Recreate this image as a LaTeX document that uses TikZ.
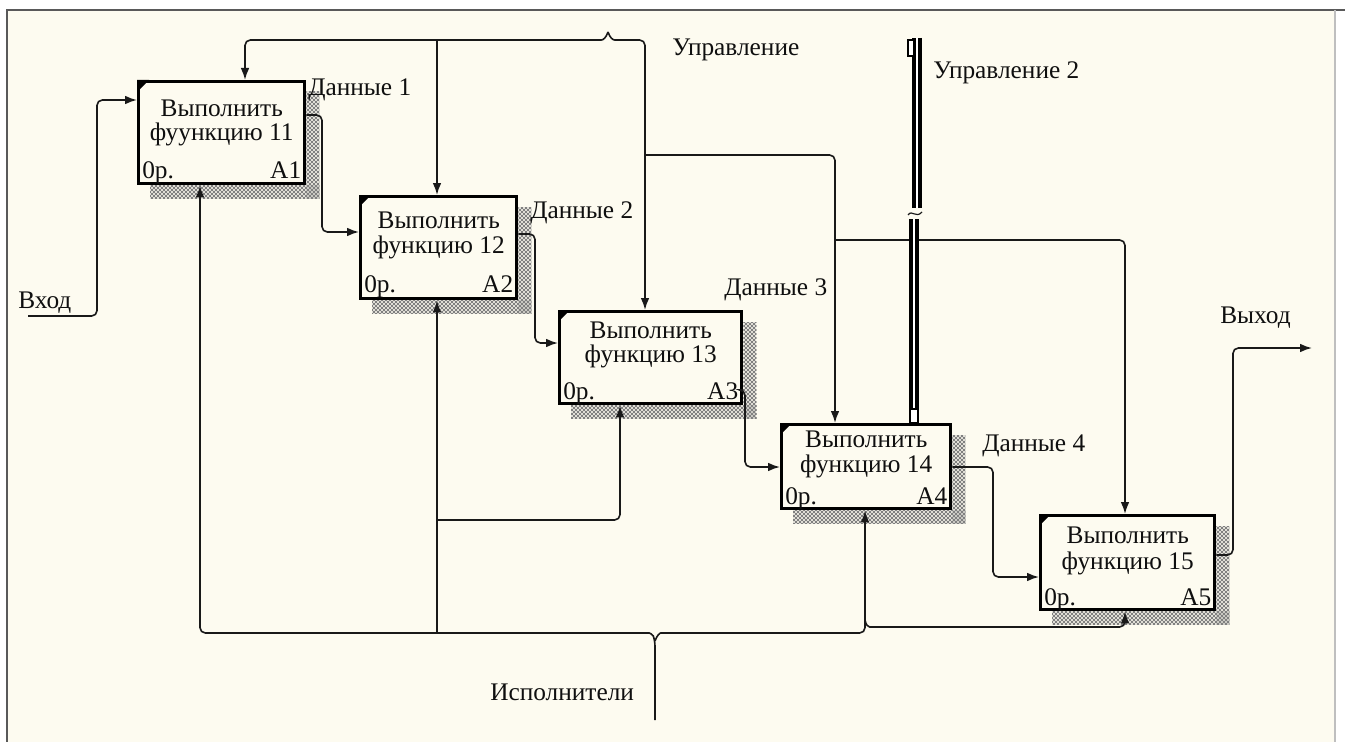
\documentclass[tikz,border=0pt]{standalone}
\usepackage{fontspec}
\newfontfamily\lbfont{Liberation Serif}
\usetikzlibrary{arrows.meta,calc,patterns}
\definecolor{cream}{RGB}{253,251,240}
\definecolor{lnc}{RGB}{25,25,25}
\definecolor{txt}{RGB}{15,15,15}
\pgfdeclarelayer{back}\pgfdeclarelayer{bg}\pgfsetlayers{back,bg,main}
\pgfdeclarepatternformonly{shadehatch}{\pgfqpoint{-0.5pt}{-0.5pt}}{\pgfqpoint{3.5pt}{3.5pt}}{\pgfqpoint{3pt}{3pt}}{%
  \pgfsetlinewidth{0.6pt}%
  \pgfpathmoveto{\pgfqpoint{0pt}{0pt}}\pgfpathlineto{\pgfqpoint{3pt}{3pt}}%
  \pgfpathmoveto{\pgfqpoint{0pt}{3pt}}\pgfpathlineto{\pgfqpoint{3pt}{0pt}}%
  \pgfusepath{stroke}}
\tikzset{
  ln/.style={draw=lnc, line width=1.2pt, rounded corners=4pt},
  arr/.style={ln, -{Latex[length=9pt,width=6.5pt]}},
  fbox/.style={draw=black, line width=2.6pt, fill=cream, inner sep=0pt, anchor=north west},
  shd/.style={pattern=shadehatch, pattern color=black!50},
  lbl/.style={font=\lbfont\fontsize{19}{20}\selectfont, text=txt, inner sep=0pt, anchor=west},
  ttl/.style={font=\lbfont\fontsize{19}{20}\selectfont, text=txt, inner sep=0pt, anchor=base},
  dbl/.style={draw=black, line width=3.2pt, double=white, double distance=1.1pt},
  tun/.style={draw=black, fill=white, line width=1.2pt}
}
\begin{document}
\begin{tikzpicture}[x=0.75pt,y=-0.75pt]
\useasboundingbox (0,0) rectangle (1345,742);
\begin{pgfonlayer}{back}
  \fill[white] (0,0) rectangle (1345,742);
  \fill[cream] (7,10) rectangle (1335,742);
  \draw[black!65, line width=1.6pt] (7,742) -- (7,10) -- (1345,10);
  \draw[black!25, line width=1pt] (1335,10) -- (1335,742);
\end{pgfonlayer}

% boxes
\node[fbox, minimum width=166*0.75pt, minimum height=102*0.75pt] (a1) at (137,80) {};
\node[fbox, minimum width=156*0.75pt, minimum height=102*0.75pt] (a2) at (359,195) {};
\node[fbox, minimum width=182*0.75pt, minimum height=92*0.75pt] (a3) at (558,310) {};
\node[fbox, minimum width=169*0.75pt, minimum height=84*0.75pt] (a4) at (780,423) {};
\node[fbox, minimum width=174*0.75pt, minimum height=94*0.75pt] (a5) at (1039,514) {};

% shadows
\begin{pgfonlayer}{bg}
  \foreach \b in {a1,a2,a3,a4,a5}{
    \path[shd] ($(\b.north east)+(0,12)$) rectangle ($(\b.south east)+(13,13)$);
    \path[shd] ($(\b.south west)+(13,0)$) rectangle ($(\b.south east)+(13,13)$);
  }
\end{pgfonlayer}

% corner marks
\foreach \b in {a1,a2,a3,a4,a5}{
  \fill[black] (\b.north west) -- ++(12,0) -- ++(-12,12) -- cycle;
}

% box texts
\node[ttl] (t1a) at ($(a1.north)+(0,36)$) {Выполнить};
\node[ttl] (t1b) at ($(a1.north)+(0,60)$) {фуункцию 11};
\node[ttl, anchor=base west] (o1) at ($(a1.south west)+(5,-7)$) {0р.};
\node[ttl, anchor=base east] (n1) at ($(a1.south east)+(-5,-7)$) {A1};

\node[ttl] (t2a) at ($(a2.north)+(0,33)$) {Выполнить};
\node[ttl] (t2b) at ($(a2.north)+(0,58)$) {функцию 12};
\node[ttl, anchor=base west] (o2) at ($(a2.south west)+(5,-8)$) {0р.};
\node[ttl, anchor=base east] (n2) at ($(a2.south east)+(-5,-8)$) {A2};

\node[ttl] (t3a) at ($(a3.north)+(0,28)$) {Выполнить};
\node[ttl] (t3b) at ($(a3.north)+(0,52)$) {функцию 13};
\node[ttl, anchor=base west] (o3) at ($(a3.south west)+(5,-6)$) {0р.};
\node[ttl, anchor=base east] (n3) at ($(a3.south east)+(-5,-6)$) {A3};

\node[ttl] (t4a) at ($(a4.north)+(0,24)$) {Выполнить};
\node[ttl] (t4b) at ($(a4.north)+(0,49)$) {функцию 14};
\node[ttl, anchor=base west] (o4) at ($(a4.south west)+(5,-6)$) {0р.};
\node[ttl, anchor=base east] (n4) at ($(a4.south east)+(-5,-6)$) {A4};

\node[ttl] (t5a) at ($(a5.north)+(0,29)$) {Выполнить};
\node[ttl] (t5b) at ($(a5.north)+(0,55)$) {функцию 15};
\node[ttl, anchor=base west] (o5) at ($(a5.south west)+(5,-6)$) {0р.};
\node[ttl, anchor=base east] (n5) at ($(a5.south east)+(-5,-6)$) {A5};

% labels
\node[lbl] (l1) at (308,90) {Данные 1};
\node[lbl] (l2) at (530,213) {Данные 2};
\node[lbl] (l3) at (724,290) {Данные 3};
\node[lbl] (l4) at (982,446) {Данные 4};
\node[lbl] (lc) at (672,50) {Управление};
\node[lbl] (lc2) at (933,73) {Управление 2};
\node[lbl] (lin) at (18,303) {Вход};
\node[lbl] (lout) at (1220,318) {Выход};
\node[lbl] (lm) at (490,692) {Исполнители};

% control
\coordinate (ctl) at (608,32);
\coordinate (j1) at (437,40);
\coordinate (j2) at (645,155);
\coordinate (j3) at (835,240);
\draw[arr] (ctl) .. controls (606,38) and (603,40) .. (596,40) -- (245,40) -- (a1.north -| 245,0);
\draw[arr] (ctl) .. controls (610,38) and (613,40) .. (620,40) -- (645,40) -- (a3.north -| 645,0);
\draw[arr] (j1) -- (a2.north -| 437,0);
\draw[arr] (j2) -- (835,155) -- (a4.north -| 835,0);
\draw[arr] (j3) -- (1125,240) -- (a5.north -| 1125,0);

% control 2
\coordinate (ctl2) at (917,38);
\draw[dbl] (ctl2) -- (917,208);
\draw[dbl] (914,219) -- (a4.north -| 914,0);
\draw[lnc, line width=0.9pt] (908,215) .. controls (912,209) and (916,219) .. (922,212);
\draw[tun] (908,40) rectangle (914,56);
\draw[tun] (910,409) rectangle (918,423);

% input / output
\coordinate (in) at (28,316);
\draw[arr] (in) -- (97,316) -- (97,100) -- (a1.west |- 0,100);
\coordinate (out) at (1312,348);
\draw[arr] (a5.east |- 0,555) -- (1233,555) -- (1233,348) -- (out);

% data flows
\draw[arr] (a1.east |- 0,115) -- (322,115) -- (322,232) -- (a2.west |- 0,232);
\draw[arr] (a2.east |- 0,234) -- (535,234) -- (535,343) -- (a3.west |- 0,343);
\draw[arr] (a3.east |- 0,390) -- (745,390) -- (745,467) -- (a4.west |- 0,467);
\draw[arr] (a4.east |- 0,467) -- (993,467) -- (993,577) -- (a5.west |- 0,577);

% mechanisms
\coordinate (mech) at (655,720);
\coordinate (k1) at (437,633);
\coordinate (k2) at (437,520);
\coordinate (k3) at (865,620);
\draw[arr] (mech) -- (655,641) .. controls (653,635) and (650,633) .. (644,633) -- (200,633) -- (a1.south -| 200,0);
\draw[arr] (655,641) .. controls (657,635) and (660,633) .. (666,633) -- (865,633) -- (a4.south -| 865,0);
\draw[arr] (k1) -- (a2.south -| 437,0);
\draw[arr] (k2) -- (620,520) -- (a3.south -| 620,0);
\draw[arr] (k3) .. controls (866,625) and (868,627) .. (875,627) -- (1125,627) -- (a5.south -| 1125,0);
\end{tikzpicture}
\end{document}
